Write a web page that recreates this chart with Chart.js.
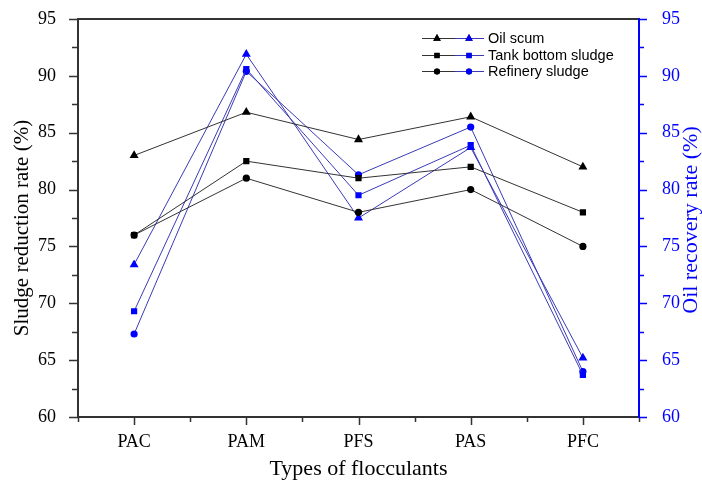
<!DOCTYPE html>
<html>
<head>
<meta charset="utf-8">
<script src="https://cdn.jsdelivr.net/npm/chart.js@4/dist/chart.umd.min.js"></script>
<style>
html,body{margin:0;padding:0;background:#fff;}
canvas{display:block;}
</style>
</head>
<body>
<canvas id="c" width="702" height="483"></canvas>
<script>
const categories = ['PAC', 'PAM', 'PFS', 'PAS', 'PFC'];
const seriesNames = ['Oil scum', 'Tank bottom sludge', 'Refinery sludge'];
// Sludge reduction rate (%) - left axis
const sludgeOilScum = [83.0, 86.8, 84.4, 86.4, 82.0];
const sludgeTankBottom = [76.0, 82.5, 81.0, 82.0, 78.0];
const sludgeRefinery = [76.0, 81.0, 78.0, 80.0, 75.0];
// Oil recovery rate (%) - right axis
const oilOilScum = [73.4, 91.9, 77.5, 83.7, 65.2];
const oilTankBottom = [69.3, 90.6, 79.5, 83.9, 63.7];
const oilRefinery = [67.3, 90.4, 81.3, 85.5, 64.0];
const yTicks = [60, 65, 70, 75, 80, 85, 90, 95];

const BLACK_LINE = '#333333';
const BLUE_LINE = '#3a3ab8';
const BLUE = '#0000ff';
const styles = ['triangle', 'rect', 'circle'];
const radii = [5.2, 4.4, 3.6];

function ds(label, data, axis, color, lineColor, i) {
  return {
    label: label, data: data, yAxisID: axis,
    borderColor: lineColor, backgroundColor: color,
    pointBackgroundColor: color, pointBorderColor: color,
    pointStyle: styles[i], pointRadius: radii[i], pointBorderWidth: 0,
    borderWidth: 1, tension: 0, fill: false
  };
}

const datasets = [
  ds(seriesNames[0], sludgeOilScum, 'y', '#000', BLACK_LINE, 0),
  ds(seriesNames[1], sludgeTankBottom, 'y', '#000', BLACK_LINE, 1),
  ds(seriesNames[2], sludgeRefinery, 'y', '#000', BLACK_LINE, 2),
  ds(seriesNames[0], oilOilScum, 'y2', BLUE, BLUE_LINE, 0),
  ds(seriesNames[1], oilTankBottom, 'y2', BLUE, BLUE_LINE, 1),
  ds(seriesNames[2], oilRefinery, 'y2', BLUE, BLUE_LINE, 2)
];

const SERIF = '"Liberation Serif", "Times New Roman", serif';
const SANS = '"Liberation Sans", Arial, sans-serif';

const framePlugin = {
  id: 'frame',
  afterDraw(chart) {
    const ctx = chart.ctx;
    const a = chart.chartArea;
    const x = chart.scales.x, y = chart.scales.y, y2 = chart.scales.y2;
    ctx.save();
    ctx.lineCap = 'butt';
    ctx.strokeStyle = '#333';
    ctx.lineWidth = 2;
    ctx.beginPath();
    ctx.moveTo(a.left, a.top); ctx.lineTo(a.right, a.top);
    ctx.moveTo(a.left, a.top - 1); ctx.lineTo(a.left, a.bottom + 1);
    ctx.moveTo(a.left - 1, a.bottom); ctx.lineTo(a.right, a.bottom);
    ctx.stroke();
    ctx.lineWidth = 1.5;
    ctx.beginPath();
    for (let v = 60; v <= 95; v += 2.5) {
      const py = Math.round(y.getPixelForValue(v)) + 0.5;
      const major = (v % 5 === 0);
      ctx.moveTo(a.left, py); ctx.lineTo(a.left - (major ? 9 : 6), py);
    }
    for (let i = -0.5; i <= 4.5; i += 0.5) {
      const px = Math.round(x.getPixelForValue(i)) + 0.5;
      const major = Number.isInteger(i);
      ctx.moveTo(px, a.bottom); ctx.lineTo(px, a.bottom + (major ? 8 : 5));
    }
    ctx.stroke();
    ctx.strokeStyle = BLUE;
    ctx.lineWidth = 2;
    ctx.beginPath();
    ctx.moveTo(a.right, a.top - 1); ctx.lineTo(a.right, a.bottom + 1);
    ctx.stroke();
    ctx.lineWidth = 1.5;
    ctx.beginPath();
    for (let v = 60; v <= 95; v += 2.5) {
      const py = Math.round(y2.getPixelForValue(v)) + 0.5;
      const major = (v % 5 === 0);
      ctx.moveTo(a.right, py); ctx.lineTo(a.right + (major ? 8 : 5), py);
    }
    ctx.stroke();

    ctx.fillStyle = '#000';
    ctx.textAlign = 'center';
    ctx.textBaseline = 'middle';
    ctx.font = '22px ' + SERIF;
    ctx.fillText('Types of flocculants', (a.left + a.right) / 2, 469);
    ctx.save();
    ctx.font = '21px ' + SERIF;
    ctx.translate(22, 228);
    ctx.rotate(-Math.PI / 2);
    ctx.fillText('Sludge reduction rate (%)', 0, 0);
    ctx.restore();
    ctx.save();
    ctx.font = '22px ' + SERIF;
    ctx.fillStyle = BLUE;
    ctx.translate(691, 220);
    ctx.rotate(-Math.PI / 2);
    ctx.fillText('Oil recovery rate (%)', 0, 0);
    ctx.restore();

    const lx0 = 422, ly0 = 38, dy = 16.7;
    ctx.font = '14.5px ' + SANS;
    ctx.textAlign = 'left';
    for (let i = 0; i < 3; i++) {
      const ly = Math.round(ly0 + i * dy) + 0.5;
      ctx.lineWidth = 1;
      ctx.strokeStyle = BLACK_LINE;
      ctx.beginPath(); ctx.moveTo(lx0, ly); ctx.lineTo(lx0 + 33, ly); ctx.stroke();
      ctx.strokeStyle = BLUE_LINE;
      ctx.beginPath(); ctx.moveTo(lx0 + 33, ly); ctx.lineTo(lx0 + 62, ly); ctx.stroke();
      ctx.beginPath();
      Chart.helpers.drawPoint(ctx, {pointStyle: styles[i], radius: radii[i] * 0.85, borderWidth: 0, rotation: 0}, lx0 + 15, ly);
      ctx.fillStyle = '#000';
      ctx.fill();
      ctx.beginPath();
      Chart.helpers.drawPoint(ctx, {pointStyle: styles[i], radius: radii[i] * 0.85, borderWidth: 0, rotation: 0}, lx0 + 47, ly);
      ctx.fillStyle = BLUE;
      ctx.fill();
      ctx.fillStyle = '#000';
      ctx.fillText(seriesNames[i], lx0 + 66, ly);
    }
    ctx.restore();
  }
};

function fixY(w) {
  return function (s) { s.width = w; s.paddingTop = 0; s.paddingBottom = 0; };
}

new Chart(document.getElementById('c'), {
  type: 'line',
  data: { labels: categories, datasets: datasets },
  options: {
    responsive: false,
    animation: false,
    layout: { padding: { top: 19, left: 0, right: 0, bottom: 0 } },
    plugins: { legend: { display: false }, tooltip: { enabled: false } },
    scales: {
      x: {
        type: 'category', offset: true,
        grid: { display: false }, border: { display: false },
        ticks: { color: '#000', font: { family: SERIF, size: 18 }, padding: 6, maxRotation: 0 },
        afterFit(s) { s.height = 66; s.paddingLeft = 0; s.paddingRight = 0; }
      },
      y: {
        position: 'left', min: 60, max: 95,
        afterBuildTicks(s) { s.ticks = yTicks.map(v => ({ value: v })); },
        grid: { display: false }, border: { display: false },
        ticks: { color: '#000', font: { family: SERIF, size: 18 }, padding: 14 },
        afterFit: fixY(78)
      },
      y2: {
        position: 'right', min: 60, max: 95,
        afterBuildTicks(s) { s.ticks = yTicks.map(v => ({ value: v })); },
        grid: { display: false }, border: { display: false },
        ticks: { color: BLUE, font: { family: SERIF, size: 18 }, padding: 15 },
        afterFit: fixY(63)
      }
    }
  },
  plugins: [framePlugin]
});
</script>
</body>
</html>
